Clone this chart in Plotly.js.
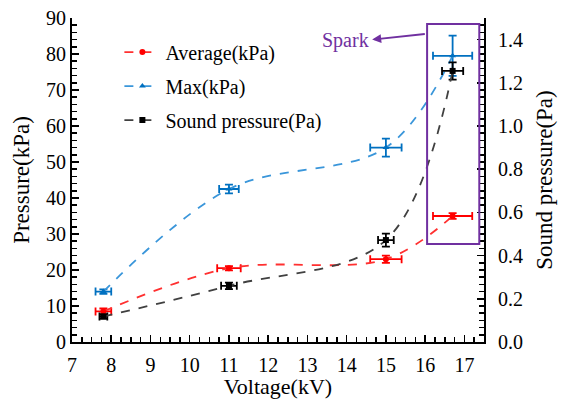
<!DOCTYPE html>
<html><head><meta charset="utf-8">
<script src="https://cdn.plot.ly/plotly-3.0.1.min.js"></script>
<style>body{margin:0;background:#fff}#c{width:562px;height:399px}</style>
</head><body><div id="c"></div>
<script>
const voltage = [7.8, 11, 15, 16.7];
const avgKPa = [8.5, 20.5, 23, 35];
const avgErrY = [0.8, 0.6, 1.0, 0.8];
const avgErrX = [0.2, 0.3, 0.4, 0.5];
const maxKPa = [14, 42.5, 54, 79.5];
const maxErrY = [0.6, 1.2, 2.5, 5.6];
const maxErrX = [0.2, 0.25, 0.4, 0.5];
const soundPa = [0.118, 0.26, 0.472, 1.255];
const soundErrY = [0.01, 0.015, 0.03, 0.04];
const soundErrX = [0.1, 0.2, 0.2, 0.27];

const F = "Liberation Serif";
const purple = "#7030A0";

function tr(name, y, ex, ey, lc, mc, sym, yaxis) {
  return {
    x: voltage, y: y, name: name, legendgroup: name, type: 'scatter', mode: 'lines+markers', yaxis: yaxis,
    line: {color: lc, dash: 'dash', width: 1.8, shape: 'spline', smoothing: 1},
    marker: {color: mc, symbol: sym, size: 6},
    error_y: {type: 'data', array: ey, color: mc, thickness: 1.8, width: 4},
    error_x: {type: 'data', array: ex, color: mc, thickness: 1.8, width: 4}
  };
}

const data = [
  tr('Average(kPa)', avgKPa, avgErrX, avgErrY, '#FF3030', '#FF0000', 'circle', 'y'),
  tr('Max(kPa)', maxKPa, maxErrX, maxErrY, '#3A96DA', '#0070C0', 'triangle-up', 'y'),
  tr('Sound pressure(Pa)', soundPa, soundErrX, soundErrY, '#404040', '#000000', 'square', 'y2')
];

const axBase = {
  showgrid: false, zeroline: false, showline: true, linecolor: '#000', linewidth: 2,
  ticks: 'inside', ticklen: 7, tickwidth: 1.5, tickcolor: '#000',
  tickfont: {family: F, size: 20, color: '#000'}
};

const layout = {
  width: 562, height: 399,
  margin: {l: 72, r: 78, t: 18, b: 57},
  paper_bgcolor: '#fff', plot_bgcolor: '#fff',
  font: {family: F, color: '#000'},
  showlegend: true,
  legend: {x: 0.115, y: 0.955, xanchor: 'left', yanchor: 'top', bgcolor: 'rgba(0,0,0,0)',
           font: {family: F, size: 20, color: '#000'}, tracegroupgap: 5, itemwidth: 36},
  xaxis: Object.assign({}, axBase, {
    range: [7, 17.5], dtick: 1, tick0: 7, ticklabelstandoff: 4,
    minor: {dtick: 0.25, ticks: 'inside', ticklen: 5, tickwidth: 1.5, tickcolor: '#000'},
    title: {text: 'Voltage(kV)', font: {family: F, size: 22, color: '#000'}, standoff: 3}
  }),
  yaxis: Object.assign({}, axBase, {
    range: [0, 90], dtick: 10,
    minor: {dtick: 2, ticks: 'inside', ticklen: 5, tickwidth: 1.5, tickcolor: '#000'},
    title: {text: 'Pressure(kPa)', font: {family: F, size: 23, color: '#000'}, standoff: 10}
  }),
  yaxis2: Object.assign({}, axBase, {
    overlaying: 'y', side: 'right', range: [0, 1.5], dtick: 0.2, tickformat: '.1f', ticklabelstandoff: 8,
    minor: {dtick: 1.5 / 45, ticks: 'inside', ticklen: 5, tickwidth: 1.5, tickcolor: '#000'},
    title: {text: 'Sound pressure(Pa)', font: {family: F, size: 23, color: '#000'}, standoff: 14}
  }),
  shapes: [{type: 'rect', xref: 'x', yref: 'y', x0: 16.05, x1: 17.38, y0: 27.2, y1: 88.3,
            line: {color: purple, width: 2}, fillcolor: 'rgba(0,0,0,0)'}],
  annotations: [
    {xref: 'x', yref: 'y', x: 14.65, y: 84, axref: 'x', ayref: 'y', ax: 16.03, ay: 85.6,
     text: '', showarrow: true, arrowhead: 2, arrowsize: 1, arrowwidth: 1.8, arrowcolor: purple},
    {xref: 'x', yref: 'y', x: 14.63, y: 83.8, xanchor: 'right', yanchor: 'middle', text: 'Spark',
     showarrow: false, font: {family: F, size: 20, color: purple}}
  ]
};

Plotly.newPlot('c', data, layout, {displayModeBar: false, staticPlot: true});
</script></body></html>
